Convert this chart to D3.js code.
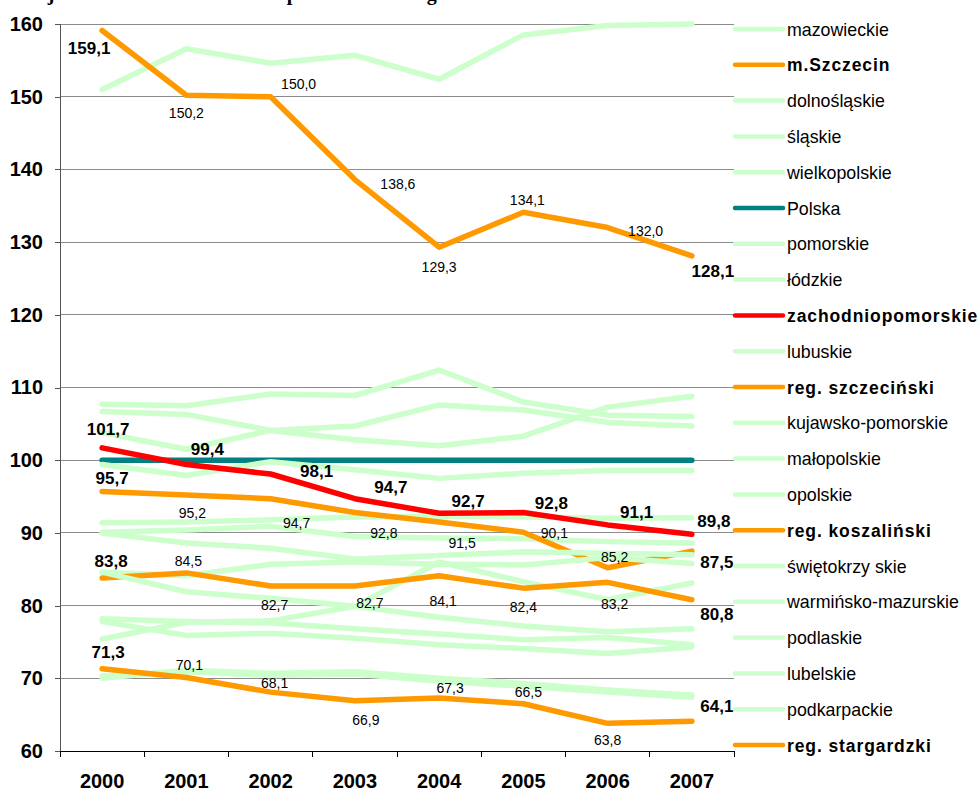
<!DOCTYPE html>
<html><head><meta charset="utf-8">
<script src="https://cdn.jsdelivr.net/npm/d3@7"></script>
<style>
html,body{margin:0;padding:0;background:#fff;}
svg{display:block;}
</style></head><body>
<svg id="chart" width="978" height="792"></svg>
<script>
// Categories and axis ticks
const years = ["2000","2001","2002","2003","2004","2005","2006","2007"];
const yTicks = [60,70,80,90,100,110,120,130,140,150,160];

// GDP per capita, Polska = 100
const mazowieckie       = [151.0,156.6,154.6,155.7,152.4,158.5,159.8,160.0];
const mSzczecin         = [159.1,150.2,150.0,138.6,129.3,134.1,132.0,128.1];
const dolnoslaskie      = [106.7,106.3,104.1,102.8,102.0,103.3,107.3,108.8];
const slaskie           = [107.7,107.5,109.1,108.9,112.4,108.0,106.2,106.0];
const wielkopolskie     = [103.8,101.5,104.1,104.7,107.6,106.9,105.2,104.7];
const polska            = [100,100,100,100,100,100,100,100];
const pomorskie         = [99.4,97.9,99.8,98.7,97.5,98.2,98.6,98.6];
const lodzkie           = [91.4,91.5,91.8,92.2,92.3,92.2,92.0,92.1];
const zachodniopomorskie= [101.7,99.4,98.1,94.7,92.7,92.8,91.1,89.8];
const lubuskie          = [90.1,90.4,90.9,89.5,89.3,89.2,88.8,88.6];
const regSzczecinski    = [95.7,95.2,94.7,92.8,91.5,90.1,85.2,87.5];
const kujawskoPomorskie = [90.0,88.6,87.9,86.4,86.9,87.4,87.2,87.0];
const malopolskie       = [84.6,84.1,85.7,86.0,85.7,85.6,86.6,85.8];
const opolskie          = [75.4,77.7,77.9,79.9,86.0,83.3,80.8,83.1];
const regKoszalinski    = [83.8,84.5,82.7,82.7,84.1,82.4,83.2,80.8];
const swietokrzyskie    = [84.6,81.9,81.0,79.9,78.4,77.2,76.4,76.8];
const warminskoMazurskie= [78.2,77.8,77.6,76.8,76.1,75.3,75.6,74.6];
const podlaskie         = [77.8,75.9,76.2,75.5,74.6,74.1,73.4,74.3];
const lubelskie         = [70.0,71.1,70.7,70.9,70.0,69.3,68.4,67.7];
const podkarpackie      = [70.3,70.9,70.4,70.6,69.6,68.9,68.1,67.4];
const regStargardzki    = [71.3,70.1,68.1,66.9,67.3,66.5,63.8,64.1];

// Label placement relative to each point: [dx, baseline dy]
const mSzczecinLabelPos = [[-13,23],[0,23],[28,-8],[43,9],[0,25],[4,-7],[38,8],[21,21]];
const zachLabelPos      = [[6,-13],[21,-10],[46,3],[36,-6],[29,-6],[28,-4],[29,-7],[22,-7]];
const szczLabelPos      = [[10,-7],[6,23],[26,29],[29,25],[23,26],[31,6],[7,-6],[25,17]];
const koszLabelPos      = [[9,-11],[2,-7],[4,24],[15,22],[4,30],[0,24],[7,27],[25,20]];
const stargLabelPos     = [[6,-11],[3,-8],[4,-4],[11,24],[11,-5],[5,-7],[0,22],[25,-9]];

const GREEN = "#CCFFCC", ORANGE = "#FF9900", RED = "#FF0000", TEAL = "#008080";

// Series in legend / drawing order
const series = [
  {name:"mazowieckie", values:mazowieckie, color:GREEN},
  {name:"m.Szczecin", values:mSzczecin, color:ORANGE, bold:true, labels:mSzczecinLabelPos},
  {name:"dolnośląskie", values:dolnoslaskie, color:GREEN},
  {name:"śląskie", values:slaskie, color:GREEN},
  {name:"wielkopolskie", values:wielkopolskie, color:GREEN},
  {name:"Polska", values:polska, color:TEAL},
  {name:"pomorskie", values:pomorskie, color:GREEN},
  {name:"łódzkie", values:lodzkie, color:GREEN},
  {name:"zachodniopomorskie", values:zachodniopomorskie, color:RED, bold:true, labels:zachLabelPos, allBold:true},
  {name:"lubuskie", values:lubuskie, color:GREEN},
  {name:"reg. szczeciński", values:regSzczecinski, color:ORANGE, bold:true, labels:szczLabelPos},
  {name:"kujawsko-pomorskie", values:kujawskoPomorskie, color:GREEN},
  {name:"małopolskie", values:malopolskie, color:GREEN},
  {name:"opolskie", values:opolskie, color:GREEN},
  {name:"reg. koszaliński", values:regKoszalinski, color:ORANGE, bold:true, labels:koszLabelPos},
  {name:"świętokrzy skie", values:swietokrzyskie, color:GREEN},
  {name:"warmińsko-mazurskie", values:warminskoMazurskie, color:GREEN},
  {name:"podlaskie", values:podlaskie, color:GREEN},
  {name:"lubelskie", values:lubelskie, color:GREEN},
  {name:"podkarpackie", values:podkarpackie, color:GREEN},
  {name:"reg. stargardzki", values:regStargardzki, color:ORANGE, bold:true, labels:stargLabelPos}
];

const svg = d3.select("#chart");
const plot = {left: 60, right: 734, top: 24, bottom: 751};

const x = d3.scaleBand().domain(years).range([plot.left, plot.right]).padding(0);
const y = d3.scaleLinear().domain([60, 160]).range([plot.bottom, plot.top]);
const cx = d => x(d) + x.bandwidth() / 2;
const fmt = v => d3.format(".1f")(v).replace(".", ",");

// Title (runs off the top edge, only descenders show)
svg.append("text")
  .attr("x", 0).attr("y", -0.5)
  .style("font-family", "'Liberation Serif','Times New Roman',serif")
  .style("font-weight", "bold").style("font-size", "20px")
  .text("Relacja PKB na 1 mieszkańca do poziomu średniego");

// Gridlines
svg.append("g").selectAll("line").data(yTicks.filter(t => t > 60)).join("line")
  .attr("x1", plot.left).attr("x2", plot.right)
  .attr("y1", d => y(d)).attr("y2", d => y(d))
  .attr("stroke", "#8c8c8c").attr("stroke-width", 1)
  .attr("shape-rendering", "crispEdges");

// Y axis
const yAxis = svg.append("g").attr("transform", `translate(${plot.left},0)`)
  .call(d3.axisLeft(y).tickValues(yTicks).tickSize(5).tickPadding(12).tickFormat(d3.format("d")));
yAxis.select(".domain").attr("stroke", "#555").attr("shape-rendering", "crispEdges");
yAxis.selectAll(".tick line").attr("stroke", "#555").attr("shape-rendering", "crispEdges");
yAxis.selectAll("text")
  .style("font-family", "'Liberation Sans',Arial,sans-serif")
  .style("font-weight", "bold").style("font-size", "20px").attr("fill", "#000");

// X axis: ticks between categories
const xAxisG = svg.append("g");
xAxisG.append("line").attr("x1", plot.left).attr("x2", plot.right)
  .attr("y1", plot.bottom).attr("y2", plot.bottom)
  .attr("stroke", "#000").attr("shape-rendering", "crispEdges");
xAxisG.selectAll("line.tk").data(d3.range(years.length + 1)).join("line").attr("class", "tk")
  .attr("x1", i => plot.left + i * x.bandwidth()).attr("x2", i => plot.left + i * x.bandwidth())
  .attr("y1", plot.bottom).attr("y2", plot.bottom + 6)
  .attr("stroke", "#000").attr("shape-rendering", "crispEdges");
xAxisG.selectAll("text").data(years).join("text")
  .attr("x", d => cx(d)).attr("y", 788)
  .attr("text-anchor", "middle")
  .style("font-family", "'Liberation Sans',Arial,sans-serif")
  .style("font-weight", "bold").style("font-size", "20px")
  .text(d => d);

// Lines
const line = d3.line().x((d, i) => cx(years[i])).y(d => y(d));
const lines = svg.append("g");
series.forEach(s => {
  lines.append("path")
    .attr("d", line(s.values))
    .attr("fill", "none")
    .attr("stroke", s.color)
    .attr("stroke-width", 5.5)
    .attr("stroke-linejoin", "round")
    .attr("stroke-linecap", "round");
});

// Data labels
const labels = svg.append("g")
  .style("font-family", "'Liberation Sans',Arial,sans-serif");
series.filter(s => s.labels).forEach(s => {
  s.values.forEach((v, i) => {
    const bold = s.allBold || i === 0 || i === s.values.length - 1;
    labels.append("text")
      .attr("x", cx(years[i]) + s.labels[i][0])
      .attr("y", y(v) + s.labels[i][1])
      .attr("text-anchor", "middle")
      .style("font-weight", bold ? "bold" : "normal")
      .style("font-size", bold ? "17px" : "14px")
      .attr("fill", "#000")
      .text(fmt(v));
  });
});

// Legend
const legend = svg.append("g");
const legY = i => 29 + i * 35.8;
series.forEach((s, i) => {
  legend.append("line")
    .attr("x1", 735).attr("x2", 783)
    .attr("y1", legY(i)).attr("y2", legY(i))
    .attr("stroke", s.color).attr("stroke-width", 4.5)
    .attr("stroke-linecap", "round");
  legend.append("text")
    .attr("x", 787).attr("y", legY(i) + 6.5)
    .style("font-family", "'Liberation Sans',Arial,sans-serif")
    .style("font-size", s.bold ? "17.5px" : "17.8px")
    .style("font-weight", s.bold ? "bold" : "normal")
    .style("letter-spacing", s.bold ? "0.9px" : "0px")
    .attr("fill", "#000")
    .text(s.name);
});
</script>
</body></html>
